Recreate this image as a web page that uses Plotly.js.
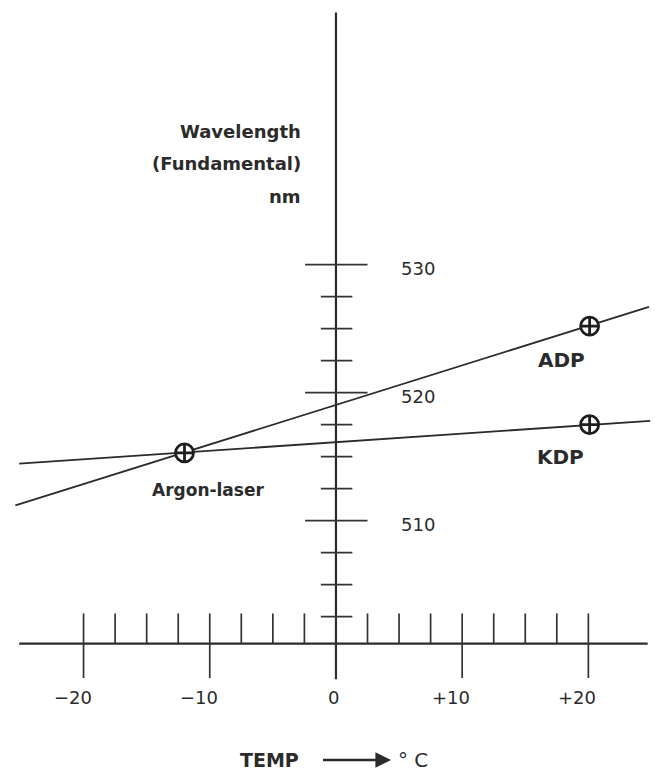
<!DOCTYPE html>
<html>
<head>
<meta charset="utf-8">
<script src="https://cdn.plot.ly/plotly-3.0.1.min.js"></script>
<style>html,body{margin:0;padding:0;background:#fff;}#chart{width:655px;height:776px;}</style>
</head>
<body>
<div id="chart"></div>
<script>
// ---- data ----
const xMajorTicks = [-20, -10, 0, 10, 20];
const xMinorTicks = [-17.5, -15, -12.5, -7.5, -5, -2.5, 2.5, 5, 7.5, 12.5, 15, 17.5];
const xTickLabels = ['\u221220', '\u221210', '0', '+10', '+20'];
const yMajorTicks = [510, 520, 530];
const yMinorTicks = [502.5, 505, 507.5, 512.5, 515, 517.5, 522.5, 525, 527.5];
const yTickLabels = ['510', '520', '530'];
const adpTemp = [-25.4, 24.8];
const adpWavelength = [511.2, 526.7];
const kdpTemp = [-25.1, 24.9];
const kdpWavelength = [514.45, 517.8];
const pointNames = ['Argon-laser', 'ADP', 'KDP'];
const pointTemp = [-12.0, 20.1, 20.1];
const pointWavelength = [515.3, 525.2, 517.5];

// ---- geometry (styling only) ----
const axisY = 500.4;            // wavelength where the temperature axis is drawn
const xAxisExtent = [-25.1, 24.7];
const yAxisExtent = [497.6, 549.7];
const ink = '#2b2b2b';

function segs(vals, a, b, vertical) {
  const xs = [], ys = [];
  vals.forEach(v => {
    if (vertical) { xs.push(v, v, null); ys.push(a, b, null); }
    else { xs.push(a, b, null); ys.push(v, v, null); }
  });
  return {x: xs, y: ys};
}

const traces = [];
traces.push({x: xAxisExtent, y: [axisY, axisY], mode: 'lines', line: {color: ink, width: 2.2}, hoverinfo: 'skip'});
traces.push({x: [0, 0], y: yAxisExtent, mode: 'lines', line: {color: ink, width: 2.2}, hoverinfo: 'skip'});
let s = segs(xMajorTicks, 497.7, 502.75, true);
traces.push({x: s.x, y: s.y, mode: 'lines', line: {color: '#333', width: 1.7}, hoverinfo: 'skip'});
s = segs(xMinorTicks, axisY, 502.75, true);
traces.push({x: s.x, y: s.y, mode: 'lines', line: {color: '#333', width: 1.7}, hoverinfo: 'skip'});
s = segs(yMajorTicks, -2.45, 2.5, false);
traces.push({x: s.x, y: s.y, mode: 'lines', line: {color: '#333', width: 1.7}, hoverinfo: 'skip'});
s = segs(yMinorTicks, -1.2, 1.3, false);
traces.push({x: s.x, y: s.y, mode: 'lines', line: {color: '#333', width: 1.7}, hoverinfo: 'skip'});
traces.push({x: adpTemp, y: adpWavelength, mode: 'lines', line: {color: ink, width: 1.8}, hoverinfo: 'skip'});
traces.push({x: kdpTemp, y: kdpWavelength, mode: 'lines', line: {color: ink, width: 1.8}, hoverinfo: 'skip'});
traces.push({x: pointTemp, y: pointWavelength, mode: 'markers',
  marker: {symbol: 'circle-cross', size: 18, color: '#ffffff', line: {color: '#1e1e1e', width: 2.8}},
  text: pointNames, hoverinfo: 'text'});

const fontNum = {family: 'DejaVu Sans', size: 18, color: ink};
const fontBold = {family: 'DejaVu Sans', size: 18, color: ink, weight: 'bold'};
const annotations = [];
xMajorTicks.forEach((v, i) => {
  annotations.push({x: v, y: 496.15, xref: 'x', yref: 'y', text: xTickLabels[i], showarrow: false,
    xanchor: 'center', yanchor: 'middle', xshift: v === 0 ? -2 : -11, font: fontNum});
});
yMajorTicks.forEach((v, i) => {
  annotations.push({x: 0, y: v, xref: 'x', yref: 'y', text: yTickLabels[i], showarrow: false,
    xanchor: 'center', yanchor: 'middle', xshift: 82, yshift: -4, font: fontNum});
});
const labelShift = [[-35, -37], [-54, -34], [-55, -32]];
const labelSize = [17, 20, 20];
pointNames.forEach((n, i) => {
  annotations.push({x: pointTemp[i], y: pointWavelength[i], xref: 'x', yref: 'y', text: n, showarrow: false,
    xanchor: 'left', yanchor: 'middle', xshift: labelShift[i][0], yshift: labelShift[i][1],
    font: {family: 'DejaVu Sans', size: labelSize[i], color: ink, weight: 'bold'}});
});
const yTitle = ['Wavelength', '(Fundamental)', 'nm'];
const yTitlePx = [131, 163.5, 196];
yTitle.forEach((t, i) => {
  annotations.push({x: 303 / 655, y: 1 - yTitlePx[i] / 776, xref: 'paper', yref: 'paper', text: t,
    showarrow: false, xanchor: 'right', yanchor: 'middle', font: fontBold});
});
const titleY = 1 - 760 / 776;
annotations.push({x: 391 / 655, y: titleY, xref: 'paper', yref: 'paper', ax: -121, ay: 0,
  text: 'TEMP', showarrow: true, arrowhead: 2, arrowsize: 1.3, arrowwidth: 2.4, arrowcolor: ink,
  startstandoff: 22, font: {family: 'DejaVu Sans', size: 19, color: ink, weight: 'bold'}});
annotations.push({x: 396 / 655, y: titleY, xref: 'paper', yref: 'paper', text: '° C', showarrow: false,
  xanchor: 'left', yanchor: 'middle', font: {family: 'DejaVu Sans', size: 20, color: ink}});

const hiddenAxis = {showgrid: false, zeroline: false, showline: false, showticklabels: false, ticks: '', fixedrange: true};
const layout = {
  width: 655, height: 776,
  margin: {l: 0, r: 0, t: 0, b: 0},
  paper_bgcolor: '#ffffff', plot_bgcolor: '#ffffff',
  showlegend: false,
  xaxis: Object.assign({range: [-26.62, 25.28]}, hiddenAxis),
  yaxis: Object.assign({range: [490.05, 550.68]}, hiddenAxis),
  annotations: annotations
};
Plotly.newPlot('chart', traces, layout, {displayModeBar: false, staticPlot: true});
</script>
</body>
</html>
